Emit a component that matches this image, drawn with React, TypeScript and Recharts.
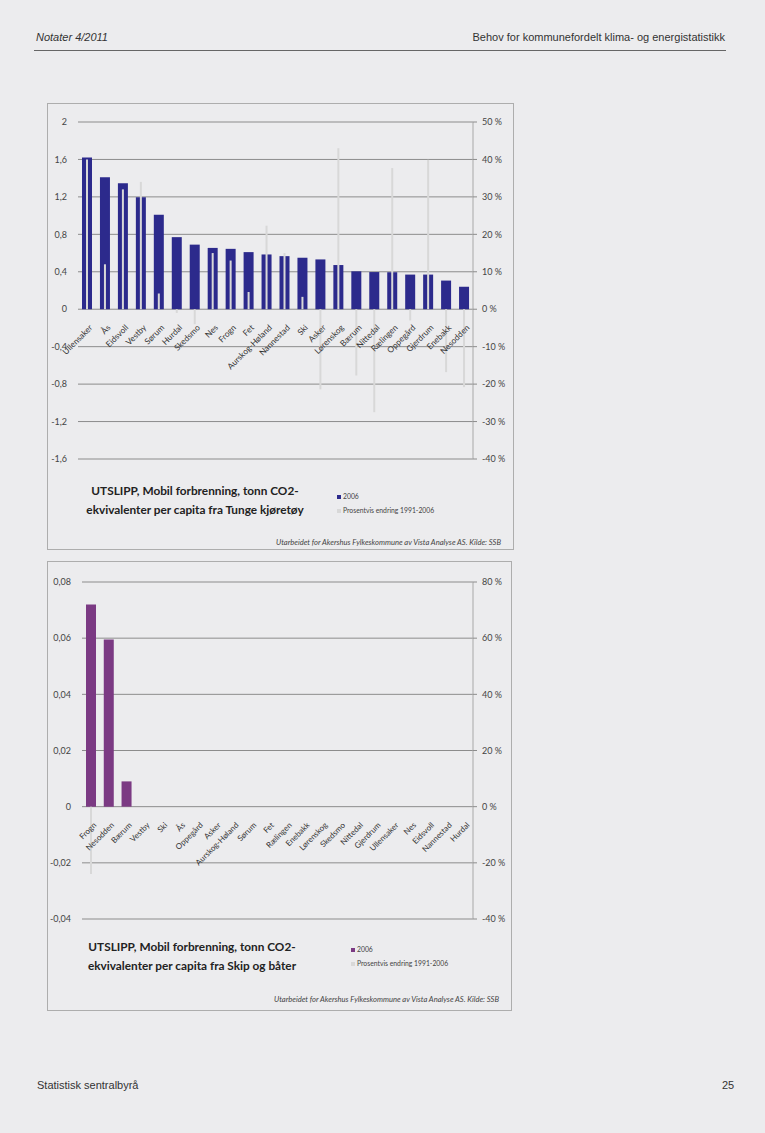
import { BarChart, Bar, XAxis, YAxis, CartesianGrid } from 'recharts';

// Tunge kjøretøy (figur 1)
const kommunerTunge = [
  'Ullensaker', 'Ås', 'Eidsvoll', 'Vestby', 'Sørum', 'Hurdal', 'Skedsmo', 'Nes',
  'Frogn', 'Fet', 'Aurskog-Høland', 'Nannestad', 'Ski', 'Asker', 'Lørenskog',
  'Bærum', 'Nittedal', 'Rælingen', 'Oppegård', 'Gjerdrum', 'Enebakk', 'Nesodden',
];
const utslippTunge = [
  1.62, 1.41, 1.345, 1.195, 1.01, 0.77, 0.69, 0.655, 0.645, 0.61, 0.585,
  0.567, 0.55, 0.532, 0.472, 0.405, 0.397, 0.395, 0.37, 0.37, 0.306, 0.24,
];
const endringTunge = [
  40, 12, 32, 34, 4.2, -1, -4, 15, 13, 4.6, 22.3,
  15, 3.3, -21.4, 43, -17.7, -27.5, 37.7, -3, 39.9, -16.8, -20.8,
];
const venstreTicksTunge = [-1.6, -1.2, -0.8, -0.4, 0, 0.4, 0.8, 1.2, 1.6, 2];
const hoyreTicksTunge = [-40, -30, -20, -10, 0, 10, 20, 30, 40, 50];

// Skip og båter (figur 2)
const kommunerSkip = [
  'Frogn', 'Nesodden', 'Bærum', 'Vestby', 'Ski', 'Ås', 'Oppegård', 'Asker',
  'Aurskog-Høland', 'Sørum', 'Fet', 'Rælingen', 'Enebakk', 'Lørenskog', 'Skedsmo',
  'Nittedal', 'Gjerdrum', 'Ullensaker', 'Nes', 'Eidsvoll', 'Nannestad', 'Hurdal',
];
const utslippSkip = [0.072, 0.0595, 0.009, 0, 0, 0, 0, 0, 0, 0, 0, 0, 0, 0, 0, 0, 0, 0, 0, 0, 0, 0];
const endringSkip = [-24, 0, 0, 0, 0, 0, 0, 0, 0, 0, 0, 0, 0, 0, 0, 0, 0, 0, 0, 0, 0, 0];
const venstreTicksSkip = [-0.04, -0.02, 0, 0.02, 0.04, 0.06, 0.08];
const hoyreTicksSkip = [-40, -20, 0, 20, 40, 60, 80];

const BLA = '#2c2a8c';
const LILLA = '#7b3a83';
const GRA = '#d8d8d8';
const FONT = 'Lato, "Open Sans", sans-serif';

const komma = (v: number) => String(v).replace('.', ',');
const prosent = (v: number) => `${v} %`;

// x-aksen krysser ved 0, så kommunenavnene legges ved nullinja
const KommuneTick = (props: any) => {
  const { x, payload, zeroY, size } = props;
  const ax = x + 6;
  const ay = zeroY + 19;
  return (
    <text
      x={ax}
      y={ay}
      transform={`rotate(-45 ${ax} ${ay})`}
      textAnchor="end"
      fontSize={size}
      fill="#333"
      fontFamily={FONT}
    >
      {payload.value}
    </text>
  );
};

interface FigurProps {
  kommuner: string[];
  utslipp: number[];
  endring: number[];
  venstreTicks: number[];
  hoyreTicks: number[];
  farge: string;
  width: number;
  top: number;
  plotHeight: number;
  left: number;
  leftWidth: number;
  rightWidth: number;
  tickSize: number;
}

const Figur = (p: FigurProps) => {
  const data = p.kommuner.map((navn, i) => ({
    navn,
    utslipp: p.utslipp[i],
    endring: p.endring[i],
  }));
  const yMin = p.venstreTicks[0];
  const yMax = p.venstreTicks[p.venstreTicks.length - 1];
  const zeroY = p.top + (p.plotHeight * yMax) / (yMax - yMin);

  return (
    <BarChart
      width={p.width}
      height={p.top + p.plotHeight + 1 + 10}
      data={data}
      margin={{ top: p.top, right: 0, bottom: 10, left: p.left }}
      style={{ fontFamily: FONT, overflow: 'visible' }}
    >
      <CartesianGrid vertical={false} stroke="#8c8c8c" yAxisId="l" xAxisId="a" />
      <XAxis
        xAxisId="a"
        dataKey="navn"
        height={1}
        axisLine={false}
        tickLine={false}
        interval={0}
        tick={<KommuneTick zeroY={zeroY} size={p.tickSize} />}
      />
      <XAxis xAxisId="b" dataKey="navn" hide />
      <YAxis
        yAxisId="l"
        domain={[yMin, yMax]}
        ticks={p.venstreTicks}
        interval={0}
        tickFormatter={komma}
        axisLine={false}
        tickLine={false}
        width={p.leftWidth}
        tick={{ fontSize: 9, fill: '#444', dx: -3 }}
      />
      <YAxis
        yAxisId="r"
        orientation="right"
        domain={[p.hoyreTicks[0], p.hoyreTicks[p.hoyreTicks.length - 1]]}
        ticks={p.hoyreTicks}
        interval={0}
        tickFormatter={prosent}
        axisLine={{ stroke: '#a8a8a8' }}
        tickLine={{ stroke: '#8c8c8c' }}
        tickSize={4}
        width={p.rightWidth}
        tick={{ fontSize: 9, fill: '#444', dx: 3 }}
      />
      <Bar
        xAxisId="a"
        yAxisId="l"
        dataKey="utslipp"
        fill={p.farge}
        barSize={10}
        isAnimationActive={false}
      />
      <Bar
        xAxisId="b"
        yAxisId="r"
        dataKey="endring"
        fill={GRA}
        barSize={2}
        isAnimationActive={false}
      />
    </BarChart>
  );
};

const Tittel = ({ linjer, x, y }: { linjer: string[]; x: number; y: number }) => (
  <div
    style={{
      position: 'absolute',
      left: x - 130,
      top: y,
      width: 260,
      textAlign: 'center',
      fontFamily: FONT,
      fontWeight: 700,
      fontSize: 11.8,
      lineHeight: '19px',
      color: '#222',
    }}
  >
    {linjer.map((l) => (
      <div key={l}>{l}</div>
    ))}
  </div>
);

const Forklaring = ({ x, y, farge }: { x: number; y: number; farge: string }) => (
  <div
    style={{
      position: 'absolute',
      left: x,
      top: y,
      fontFamily: FONT,
      fontSize: 6.8,
      lineHeight: '14px',
      color: '#444',
    }}
  >
    <div>
      <span style={{ display: 'inline-block', width: 4, height: 4, background: farge, marginRight: 2 }} />
      2006
    </div>
    <div>
      <span style={{ display: 'inline-block', width: 4, height: 4, background: GRA, marginRight: 2 }} />
      Prosentvis endring 1991-2006
    </div>
  </div>
);

const Kilde = ({ right, y }: { right: number; y: number }) => (
  <div
    style={{
      position: 'absolute',
      right,
      top: y,
      fontFamily: FONT,
      fontStyle: 'italic',
      fontSize: 7.6,
      color: '#444',
    }}
  >
    Utarbeidet for Akershus Fylkeskommune av Vista Analyse AS. Kilde: SSB
  </div>
);

const boks = (left: number, top: number, width: number, height: number) => ({
  position: 'absolute' as const,
  left,
  top,
  width,
  height,
  border: '1px solid #adadad',
  boxSizing: 'border-box' as const,
});

const App = () => {
  return (
    <div
      style={{
        position: 'absolute',
        left: 0,
        top: 0,
        width: 765,
        height: 1133,
        background: '#ececee',
        overflow: 'hidden',
        fontFamily: '"Liberation Sans", Arial, sans-serif',
      }}
    >
      <div style={{ position: 'absolute', left: 36, top: 31, fontSize: 11, fontStyle: 'italic', color: '#333' }}>
        Notater 4/2011
      </div>
      <div style={{ position: 'absolute', right: 40, top: 31, fontSize: 11, color: '#333' }}>
        Behov for kommunefordelt klima- og energistatistikk
      </div>
      <div style={{ position: 'absolute', left: 34, top: 50, width: 692, height: 1, background: '#666' }} />

      <div style={boks(47, 103, 467, 447)}>
        <div style={{ position: 'absolute', left: -1, top: -1 }}>
          <Figur
            kommuner={kommunerTunge}
            utslipp={utslippTunge}
            endring={endringTunge}
            venstreTicks={venstreTicksTunge}
            hoyreTicks={hoyreTicksTunge}
            farge={BLA}
            width={476}
            top={19}
            plotHeight={337}
            left={6}
            leftWidth={25}
            rightWidth={50}
            tickSize={8.3}
          />
        </div>
        <Tittel linjer={['UTSLIPP, Mobil forbrenning, tonn CO2-', 'ekvivalenter per capita fra Tunge kjøretøy']} x={147} y={377} />
        <Forklaring x={289} y={385} farge={BLA} />
        <Kilde right={12} y={433} />
      </div>

      <div style={boks(47, 561, 465, 450)}>
        <div style={{ position: 'absolute', left: -1, top: -1 }}>
          <Figur
            kommuner={kommunerSkip}
            utslipp={utslippSkip}
            endring={endringSkip}
            venstreTicks={venstreTicksSkip}
            hoyreTicks={hoyreTicksSkip}
            farge={LILLA}
            width={476}
            top={21}
            plotHeight={337}
            left={10}
            leftWidth={25}
            rightWidth={50}
            tickSize={8}
          />
        </div>
        <Tittel linjer={['UTSLIPP, Mobil forbrenning, tonn CO2-', 'ekvivalenter per capita fra Skip og båter']} x={144} y={375} />
        <Forklaring x={303} y={380} farge={LILLA} />
        <Kilde right={12} y={432} />
      </div>

      <div style={{ position: 'absolute', left: 37, top: 1079, fontSize: 11, color: '#333' }}>
        Statistisk sentralbyrå
      </div>
      <div style={{ position: 'absolute', left: 722, top: 1079, fontSize: 11, color: '#333' }}>
        25
      </div>
    </div>
  );
};

export default App;
